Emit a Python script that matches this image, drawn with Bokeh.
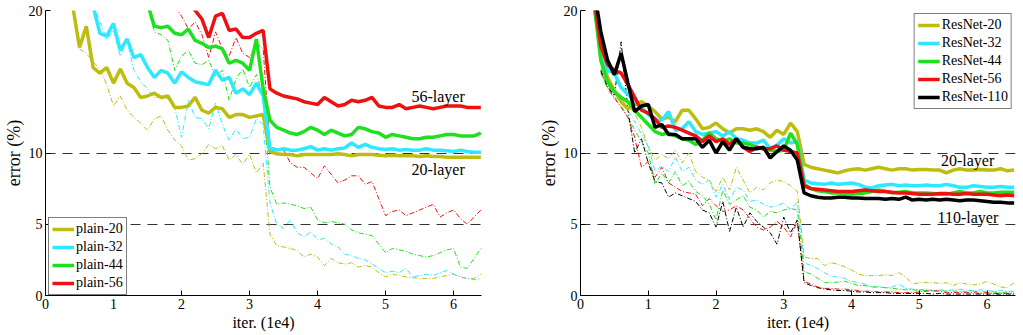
from bokeh.plotting import figure
from bokeh.models import Range1d, FixedTicker, Legend, LegendItem
from bokeh.layouts import row
from bokeh.core.properties import value
from bokeh.embed import file_html
from bokeh.resources import INLINE

# ---------------- data (error %, x in units of 1e4 iterations, step 0.1) ----------------
# left panel: plain nets; *_test = thick (test error), *_train = thin dash-dot (training error)
plain20_test_start = 0.4
plain20_test = [20.3, 17.4, 18.9, 16.0, 15.6, 16.0, 14.9, 15.9, 14.9, 14.6, 13.9, 14.0, 14.2, 13.9, 14.0, 13.2,
                13.2, 13.3, 13.9, 13.0, 12.8, 13.2, 13.1, 12.5, 12.7, 12.7, 12.5, 12.6, 12.7, 10.1, 9.95, 9.9,
                9.9, 9.8, 9.9, 9.9, 9.9, 9.9, 9.9, 9.95, 9.9, 9.8, 9.9, 9.9, 9.9, 9.85, 9.8, 9.85, 9.8, 9.8,
                9.8, 9.75, 9.8, 9.75, 9.75, 9.7, 9.7, 9.7, 9.7, 9.7, 9.7]
plain32_test_start = 0.7
plain32_test = [20.3, 18.4, 18.2, 19.1, 17.2, 18.0, 16.7, 16.9, 16.0, 15.3, 15.8, 15.6, 14.9, 15.7, 15.3, 15.0,
                14.9, 14.8, 15.8, 15.1, 15.3, 14.2, 14.5, 14.1, 14.9, 14.0, 10.3, 10.2, 10.3, 10.2, 10.2, 10.3,
                10.45, 10.2, 10.3, 10.2, 10.3, 10.35, 10.7, 10.4, 10.6, 10.4, 10.3, 10.25, 10.3, 10.2, 10.25,
                10.2, 10.2, 10.3, 10.2, 10.2, 10.15, 10.1, 10.2, 10.1, 10.05, 10.05]
plain44_test_start = 1.5
plain44_test = [20.5, 18.9, 18.8, 18.9, 18.4, 18.3, 18.7, 17.9, 17.7, 17.4, 17.5, 17.3, 16.3, 16.5, 16.3, 15.8,
                18.0, 14.5, 12.3, 11.8, 11.6, 11.4, 11.3, 11.5, 11.8, 11.6, 11.3, 11.6, 11.4, 11.2, 11.3, 11.8,
                11.7, 11.5, 11.4, 11.1, 11.3, 11.2, 11.1, 11.0, 11.0, 11.1, 11.1, 11.2, 11.3, 11.3, 11.2, 11.2,
                11.2, 11.4]
plain56_test_start = 2.1
plain56_test = [20.6, 20.0, 19.4, 18.1, 19.6, 19.8, 18.6, 18.7, 18.1, 18.1, 18.4, 18.6, 14.5, 14.2, 14.0, 13.9,
                13.8, 13.6, 13.5, 13.4, 13.9, 13.6, 13.3, 13.4, 13.7, 13.6, 13.7, 13.9, 13.3, 13.2, 13.2, 13.4,
                13.1, 13.2, 13.3, 13.2, 13.1, 13.2, 13.3, 13.3, 13.3, 13.2, 13.2, 13.2]

plain20_train_start = 0.5
plain20_train = [17.3, 17.0, 16.4, 15.9, 14.8, 13.3, 14.0, 13.0, 12.5, 12.1, 11.6, 12.4, 12.6, 11.6, 10.9, 10.5,
                 9.5, 9.6, 9.95, 10.6, 10.3, 10.5, 9.5, 9.9, 9.2, 9.9, 8.6, 9.3, 4.3, 3.5, 3.4, 3.3, 3.15, 2.7,
                 2.9, 2.7, 2.1, 2.6, 2.3, 2.2, 2.3, 2.0, 2.1, 2.0, 1.6, 1.3, 1.5, 1.4, 1.3, 1.25, 1.2, 1.2, 1.2,
                 1.3, 1.4, 1.5, 1.3, 1.2, 1.2, 1.5]
plain32_train_start = 0.7
plain32_train = [20.5, 19.2, 18.0, 18.6, 16.8, 17.9, 15.8, 15.0, 14.5, 13.9, 13.9, 13.8, 13.2, 11.1, 13.7, 12.5,
                 12.4, 11.7, 13.5, 12.0, 10.9, 11.7, 11.0, 11.1, 12.4, 12.0, 6.5, 5.0, 4.7, 5.3, 4.4, 4.1, 4.5,
                 3.9, 4.0, 3.6, 3.4, 2.9, 2.8, 2.6, 2.5, 2.2, 1.9, 1.6, 1.7, 1.6, 1.9, 1.3, 1.4, 1.5, 1.4, 1.6,
                 1.75, 1.5, 1.3, 1.2, 1.1, 1.2]
plain44_train_start = 1.5
plain44_train = [20.3, 18.5, 18.3, 17.9, 15.8, 16.8, 17.2, 16.3, 16.2, 16.5, 15.4, 15.8, 13.7, 15.2, 15.9, 14.6,
                 15.5, 14.0, 7.6, 6.4, 6.5, 6.4, 6.3, 6.1, 6.2, 5.3, 5.1, 5.2, 5.1, 5.0, 4.6, 4.4, 4.3, 4.2, 3.6,
                 3.0, 3.3, 3.2, 3.1, 2.9, 2.8, 2.7, 2.8, 3.0, 3.2, 3.3, 2.0, 1.9, 2.6, 3.3]
plain56_train_start = 1.9
plain56_train = [20.3, 19.6, 18.7, 19.2, 18.3, 16.7, 18.5, 17.3, 16.8, 18.1, 17.0, 16.7, 17.7, 17.3, 10.4, 10.3,
                 10.2, 9.3, 9.0, 9.0, 8.6, 8.2, 9.1, 8.5, 7.9, 8.1, 8.4, 8.4, 7.8, 8.0, 6.8, 5.6, 5.9, 6.0, 5.6,
                 5.8, 6.0, 6.2, 6.4, 5.5, 5.8, 6.0, 5.4, 5.0, 5.5, 6.0]

# right panel: ResNets
res20_test_start = 0.2
res20_test = [20.5, 16.8, 15.3, 14.4, 13.6, 13.1, 13.4, 13.6, 13.3, 12.9, 12.4, 12.5, 12.2, 13.0, 13.0, 12.4,
              11.7, 11.8, 12.1, 11.7, 11.4, 11.7, 11.7, 11.6, 11.7, 11.5, 11.1, 11.6, 11.3, 12.1, 11.5, 9.2,
              9.0, 8.9, 8.8, 8.7, 8.6, 8.75, 8.85, 8.9, 8.8, 8.9, 9.0, 8.9, 8.8, 8.9, 8.9, 8.8, 8.85, 8.85,
              8.8, 8.8, 8.6, 8.8, 8.9, 8.8, 8.8, 8.85, 8.8, 8.8, 8.9, 8.75, 8.8]
res32_test_start = 0.2
res32_test = [20.5, 17.2, 15.8, 15.6, 14.6, 14.1, 13.8, 13.2, 12.7, 12.3, 12.3, 12.9, 11.6, 11.7, 12.2, 11.5,
              11.3, 11.4, 11.5, 11.2, 11.5, 11.0, 10.9, 10.7, 10.7, 10.9, 10.3, 10.55, 11.0, 10.7, 10.8, 8.1,
              7.9, 7.85, 7.8, 7.9, 7.8, 7.85, 7.9, 7.8, 7.6, 7.55, 7.7, 7.75, 7.8, 7.7, 7.75, 7.7, 7.7, 7.75,
              7.7, 7.7, 7.8, 7.7, 7.6, 7.6, 7.7, 7.65, 7.6, 7.6, 7.65, 7.6, 7.6]
res44_test_start = 0.2
res44_test = [20.5, 16.5, 15.0, 14.3, 13.9, 13.6, 13.0, 12.5, 12.0, 11.5, 11.3, 11.4, 11.2, 11.0, 10.9, 10.6,
              10.9, 11.4, 11.0, 10.8, 11.0, 10.7, 10.7, 10.6, 10.4, 10.3, 10.2, 10.1, 10.2, 11.4, 10.6, 7.8,
              7.5, 7.35, 7.3, 7.2, 7.2, 7.15, 7.1, 7.15, 7.2, 7.3, 7.4, 7.3, 7.2, 7.25, 7.3, 7.2, 7.2, 7.2,
              7.15, 7.1, 7.1, 7.2, 7.3, 7.2, 7.2, 7.3, 7.2, 7.2, 7.25, 7.25, 7.25]
res56_test_start = 0.2
res56_test = [20.8, 17.5, 16.2, 15.8, 15.6, 14.8, 13.9, 13.0, 12.8, 12.4, 11.8, 11.9, 11.8, 11.6, 11.4, 11.2,
              10.8, 11.2, 10.8, 11.0, 10.6, 11.0, 10.4, 10.1, 10.4, 10.3, 10.3, 10.5, 10.2, 10.1, 10.0, 7.7,
              7.5, 7.45, 7.4, 7.35, 7.3, 7.3, 7.3, 7.35, 7.4, 7.35, 7.3, 7.3, 7.25, 7.2, 7.2, 7.15, 7.1, 7.1,
              7.1, 7.15, 7.15, 7.1, 7.1, 7.15, 7.1, 7.1, 7.1, 7.05, 7.0, 7.05, 7.0]
res110_test_start = 0.2
res110_test = [21.5, 18.5, 16.5, 15.5, 17.0, 14.9, 12.9, 13.3, 13.4, 11.8, 12.0, 11.3, 11.3, 11.0, 11.0, 11.0,
               10.4, 10.9, 10.0, 10.8, 10.2, 11.0, 10.4, 10.3, 10.3, 10.4, 9.65, 10.1, 10.5, 10.2, 9.5, 7.2,
               7.0, 6.9, 6.85, 6.85, 6.9, 6.9, 6.85, 6.85, 6.8, 6.8, 6.8, 6.75, 6.8, 6.75, 6.9, 6.7, 6.75, 6.7,
               6.75, 6.7, 6.75, 6.7, 6.65, 6.7, 6.7, 6.65, 6.6, 6.55, 6.55, 6.5, 6.5]

res20_train_start = 0.3
res20_train = [16.0, 14.8, 14.2, 13.7, 13.3, 12.8, 11.8, 10.4, 9.5, 9.9, 9.6, 10.2, 9.3, 10.0, 8.7, 8.3, 8.1,
               7.3, 8.3, 7.4, 9.0, 8.1, 7.2, 7.6, 7.4, 7.9, 8.1, 8.0, 7.7, 7.3, 2.7, 2.6, 2.6, 2.1, 2.3, 2.2,
               2.0, 1.8, 1.5, 1.4, 1.4, 1.4, 1.45, 1.4, 1.6, 1.3, 0.8, 0.9, 0.9, 0.9, 0.85, 0.9, 0.7, 0.9, 0.8,
               0.75, 0.8, 1.0, 0.8, 0.6, 0.55, 0.9]
res32_train_start = 0.3
res32_train = [15.8, 14.7, 14.0, 13.5, 13.0, 12.2, 11.3, 10.5, 8.7, 9.1, 8.7, 9.7, 8.7, 9.0, 8.1, 7.8, 8.1, 6.9,
               7.8, 6.7, 7.6, 7.4, 6.6, 6.7, 6.4, 6.2, 6.3, 6.5, 6.0, 6.6, 2.3, 2.1, 1.9, 1.6, 1.35, 1.3, 1.2,
               1.0, 0.9, 0.8, 0.6, 0.6, 0.55, 0.6, 0.8, 0.5, 0.45, 0.4, 0.45, 0.35, 0.4, 0.35, 0.4, 0.45, 0.35,
               0.35, 0.4, 0.35, 0.3, 0.35, 0.3, 0.3]
res44_train_start = 0.3
res44_train = [15.6, 14.5, 13.8, 13.3, 12.5, 11.6, 10.8, 10.0, 7.8, 8.6, 7.9, 8.7, 7.7, 8.0, 7.3, 7.0, 6.4, 5.3,
               7.4, 6.4, 6.7, 7.0, 6.2, 6.0, 5.5, 5.9, 5.8, 6.0, 6.1, 6.0, 1.7, 1.5, 1.2, 0.9, 0.9, 0.95, 1.0,
               0.85, 0.7, 0.7, 0.6, 0.6, 0.55, 0.5, 0.45, 0.4, 0.4, 0.35, 0.35, 0.3, 0.35, 0.3, 0.3, 0.3, 0.25,
               0.3, 0.25, 0.25, 0.25, 0.2, 0.25, 0.25]
res56_train_start = 0.3
res56_train = [15.7, 14.6, 13.9, 13.2, 12.5, 11.1, 9.0, 9.4, 8.3, 9.0, 7.9, 7.6, 7.3, 7.2, 7.1, 6.3, 6.8, 6.3,
               5.9, 6.0, 6.3, 6.0, 5.4, 4.8, 4.6, 4.8, 5.2, 4.8, 4.1, 5.2, 1.0, 0.8, 0.6, 0.5, 0.5, 0.45, 0.45,
               0.4, 0.35, 0.3, 0.3, 0.25, 0.25, 0.25, 0.2, 0.2, 0.2, 0.25, 0.3, 0.35, 0.3, 0.2, 0.2, 0.2, 0.2,
               0.2, 0.15, 0.2, 0.15, 0.15, 0.15, 0.15]
res110_train_start = 0.3
res110_train = [15.8, 14.7, 14.0, 17.8, 13.0, 10.0, 11.0, 9.3, 8.0, 7.9, 6.9, 7.2, 7.0, 6.8, 6.6, 6.0, 5.8, 4.8,
                6.6, 4.5, 6.2, 4.8, 5.8, 5.2, 4.8, 4.4, 3.6, 5.5, 4.4, 5.3, 0.9, 0.7, 0.55, 0.45, 0.4, 0.35,
                0.35, 0.3, 0.25, 0.25, 0.2, 0.2, 0.2, 0.15, 0.15, 0.15, 0.15, 0.15, 0.15, 0.1, 0.15, 0.1, 0.1,
                0.1, 0.1, 0.1, 0.1, 0.1, 0.1, 0.1, 0.1, 0.1]

x_ticks = [0, 1, 2, 3, 4, 5, 6]
y_ticks = [0, 5, 10, 20]
grid_levels = [5, 10, 20]
left_names = ["plain-20", "plain-32", "plain-44", "plain-56"]
right_names = ["ResNet-20", "ResNet-32", "ResNet-44", "ResNet-56", "ResNet-110"]

OLIVE, CYAN, GREEN, RED, BLACK = "#bdbd10", "#2ee8ff", "#1ee01e", "#ee1111", "#000000"
SERIF = "Liberation Serif"


def xs(start, vals):
    return [round(start + 0.1 * i, 2) for i in range(len(vals))]


def make_fig(min_left, min_right, xmax, fw):
    p = figure(frame_width=fw, frame_height=285, min_border_left=min_left, min_border_right=min_right,
               min_border_top=10, min_border_bottom=40, x_range=Range1d(0, xmax), y_range=Range1d(0, 20),
               output_backend="svg", toolbar_location=None, background_fill_color="white",
               border_fill_color="white")
    p.outline_line_color = None
    p.xgrid.visible = False
    p.ygrid.ticker = FixedTicker(ticks=grid_levels)
    p.ygrid.grid_line_color = "#333333"
    p.ygrid.grid_line_dash = "10 7"
    p.ygrid.grid_line_width = 1.2
    p.xaxis.ticker = FixedTicker(ticks=x_ticks)
    p.yaxis.ticker = FixedTicker(ticks=y_ticks)
    for ax in (p.xaxis, p.yaxis):
        ax.major_tick_in = 5
        ax.major_tick_out = 0
        ax.minor_tick_line_color = None
        ax.axis_line_color = "black"
        ax.major_tick_line_color = "black"
        ax.major_label_text_font = SERIF
        ax.major_label_text_font_size = "14px"
        ax.major_label_text_color = "black"
        ax.axis_label_text_font = SERIF
        ax.axis_label_text_font_style = "normal"
        ax.axis_label_text_color = "black"
    p.xaxis.axis_label_text_font_size = "16px"
    p.yaxis.axis_label_text_font_size = "18px"
    p.xaxis.axis_label = "iter. (1e4)"
    p.yaxis.axis_label = "error (%)"
    p.xaxis.major_label_standoff = 3
    p.yaxis.major_label_standoff = 3
    p.xaxis.axis_label_standoff = 2
    p.yaxis.axis_label_standoff = 2
    return p


def draw(p, trains, tests, colors, names):
    for (st, v), c in zip(trains, colors):
        p.line(xs(st, v), v, line_color=c, line_width=1.0, line_dash="5 2 1 2")
    items = []
    for (st, v), c, n in zip(tests, colors, names):
        r = p.line(xs(st, v), v, line_color=c, line_width=3.5)
        items.append(LegendItem(label=n, renderers=[r]))
    return items


def style_legend(leg):
    leg.label_text_font = SERIF
    leg.label_text_font_size = "14px"
    leg.label_text_color = "black"
    leg.border_line_color = "black"
    leg.border_line_width = 1.5
    leg.glyph_width = 22
    leg.glyph_height = 16
    leg.label_height = 16
    leg.label_standoff = 2
    leg.spacing = 2
    leg.padding = 3
    leg.background_fill_alpha = 1


# ---------------- left panel ----------------
p1 = make_fig(41, 33, 6.41, 436)
items1 = draw(p1,
              [(plain20_train_start, plain20_train), (plain32_train_start, plain32_train),
               (plain44_train_start, plain44_train), (plain56_train_start, plain56_train)],
              [(plain20_test_start, plain20_test), (plain32_test_start, plain32_test),
               (plain44_test_start, plain44_test), (plain56_test_start, plain56_test)],
              [OLIVE, CYAN, GREEN, RED], left_names)
leg1 = Legend(items=items1, location=(3, 0))
style_legend(leg1)
p1.add_layout(leg1)
p1.text(x=[5.38, 5.38], y=[13.95, 8.83], text=["56-layer", "20-layer"], text_font=value(SERIF),
        text_font_size="16px", text_baseline="middle", text_color="black")

# ---------------- right panel ----------------
p2 = make_fig(66, 12, 6.42, 435)
items2 = draw(p2,
              [(res20_train_start, res20_train), (res32_train_start, res32_train),
               (res44_train_start, res44_train), (res56_train_start, res56_train),
               (res110_train_start, res110_train)],
              [(res20_test_start, res20_test), (res32_test_start, res32_test),
               (res44_test_start, res44_test), (res56_test_start, res56_test),
               (res110_test_start, res110_test)],
              [OLIVE, CYAN, GREEN, RED, BLACK], right_names)
leg2 = Legend(items=items2, location="top_right")
style_legend(leg2)
leg2.margin = 3
p2.add_layout(leg2)
p2.text(x=[5.32, 5.27], y=[9.44, 5.45], text=["20-layer", "110-layer"], text_font=value(SERIF),
        text_font_size="16px", text_baseline="middle", text_color="black")

layout = row(p1, p2)
open("out.html", "w").write(file_html(layout, INLINE))
